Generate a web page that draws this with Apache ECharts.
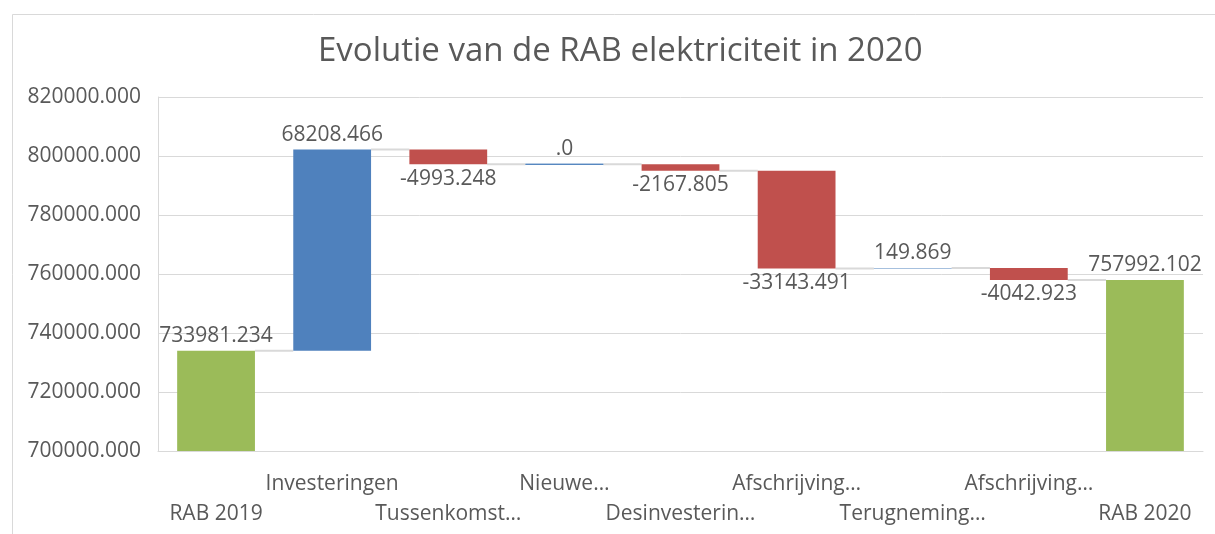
<!DOCTYPE html>
<html>
<head>
<meta charset="utf-8">
<script src="https://cdn.jsdelivr.net/npm/echarts@6/dist/echarts.min.js"></script>
<style>
html,body{margin:0;padding:0;background:#fff;}
#chart{width:1215px;height:534px;}
</style>
</head>
<body>
<div id="chart"></div>
<script>
var categories = ['RAB 2019','Investeringen','Tussenkomst…','Nieuwe…','Desinvesterin…','Afschrijving…','Terugneming…','Afschrijving…','RAB 2020'];
var values = [733981.234, 68208.466, -4993.248, 0, -2167.805, -33143.491, 149.869, -4042.923, 757992.102];
var isTotal = [true, false, false, false, false, false, false, false, true];
var yTicks = [700000, 720000, 740000, 760000, 780000, 800000, 820000];

var COLORS = {total:'#9BBB59', up:'#4F81BD', down:'#C0504D'};
var FONT = 'Open Sans';
var TXT = '#595959';
var FS = 21;

// build waterfall stacks
var base = [], vis = [], levels = [];
var run = 0;
for (var i = 0; i < values.length; i++) {
  var v = values[i];
  if (isTotal[i]) {
    base.push(0);
    vis.push({value: v, itemStyle:{color:COLORS.total}, label:{position:'top'}});
    run = v;
  } else if (v >= 0) {
    base.push(run);
    var st = {color:COLORS.up};
    if (v === 0) { st.borderColor = COLORS.up; st.borderWidth = 1; }
    vis.push({value: v, itemStyle:st, label:{position:'top'}});
    run = run + v;
  } else {
    base.push(run + v);
    vis.push({value: -v, itemStyle:{color:COLORS.down}, label:{position:'bottom'}});
    run = run + v;
  }
  levels.push(run);
}
var connData = [];
for (var j = 0; j < values.length - 1; j++) connData.push([j, levels[j]]);

function fmt(v){ return v === 0 ? '.0' : v.toFixed(3); }

var chart = echarts.init(document.getElementById('chart'));
var BAR_RATIO = 0.67;
chart.setOption({
  animation: false,
  backgroundColor: '#ffffff',
  title: {
    text: 'Evolutie van de RAB elektriciteit in 2020',
    left: 313, top: 30,
    textStyle: {fontFamily: FONT, fontSize: 33, fontWeight: 'normal', color: TXT}
  },
  graphic: [{
    type: 'rect', left: 10, top: 12, silent: true,
    shape: {x: 0, y: 0, width: 1230, height: 560},
    style: {fill: 'none', stroke: '#d9d9d9', lineWidth: 1}
  }],
  grid: {left: 158, right: 12, top: 97, bottom: 83},
  xAxis: {
    type: 'category',
    data: categories.map(function(c, k){ return String(k); }),
    axisLine: {show: true, lineStyle: {color: '#d9d9d9', width: 1}},
    axisTick: {show: false},
    axisLabel: {
      interval: 0, margin: 18, lineHeight: 30,
      fontFamily: FONT, fontSize: FS, color: TXT,
      formatter: function(val, idx){ return idx % 2 ? categories[idx] : '\n' + categories[idx]; }
    }
  },
  yAxis: {
    type: 'value', min: yTicks[0], max: yTicks[yTicks.length-1], interval: yTicks[1]-yTicks[0],
    axisLine: {show: true, lineStyle: {color: '#d9d9d9'}},
    axisTick: {show: false},
    splitLine: {lineStyle: {color: '#d9d9d9', width: 1}},
    axisLabel: {margin: 17, fontFamily: FONT, fontSize: FS, color: TXT,
      formatter: function(v){ return v.toFixed(3); }}
  },
  series: [
    {
      type: 'bar', stack: 'w', barWidth: (BAR_RATIO*100)+'%',
      itemStyle: {color: 'transparent'}, emphasis: {disabled: true},
      data: base, silent: true
    },
    {
      type: 'bar', stack: 'w', barWidth: (BAR_RATIO*100)+'%',
      data: vis,
      label: {
        show: true, distance: 4, fontFamily: FONT, fontSize: FS, color: TXT,
        formatter: function(p){ return fmt(values[p.dataIndex]); }
      }
    },
    {
      type: 'custom', silent: true, z: 1,
      data: connData,
      renderItem: function(params, api){
        var idx = api.value(0), lvl = api.value(1);
        var w = api.size([1, 0])[0] * BAR_RATIO;
        var p1 = api.coord([idx, lvl]);
        var p2 = api.coord([idx + 1, lvl]);
        return {
          type: 'line',
          shape: {x1: p1[0] + w/2, y1: p1[1], x2: p2[0] - w/2, y2: p2[1]},
          style: {stroke: '#d9d9d9', lineWidth: 2}
        };
      }
    }
  ]
});
</script>
</body>
</html>
